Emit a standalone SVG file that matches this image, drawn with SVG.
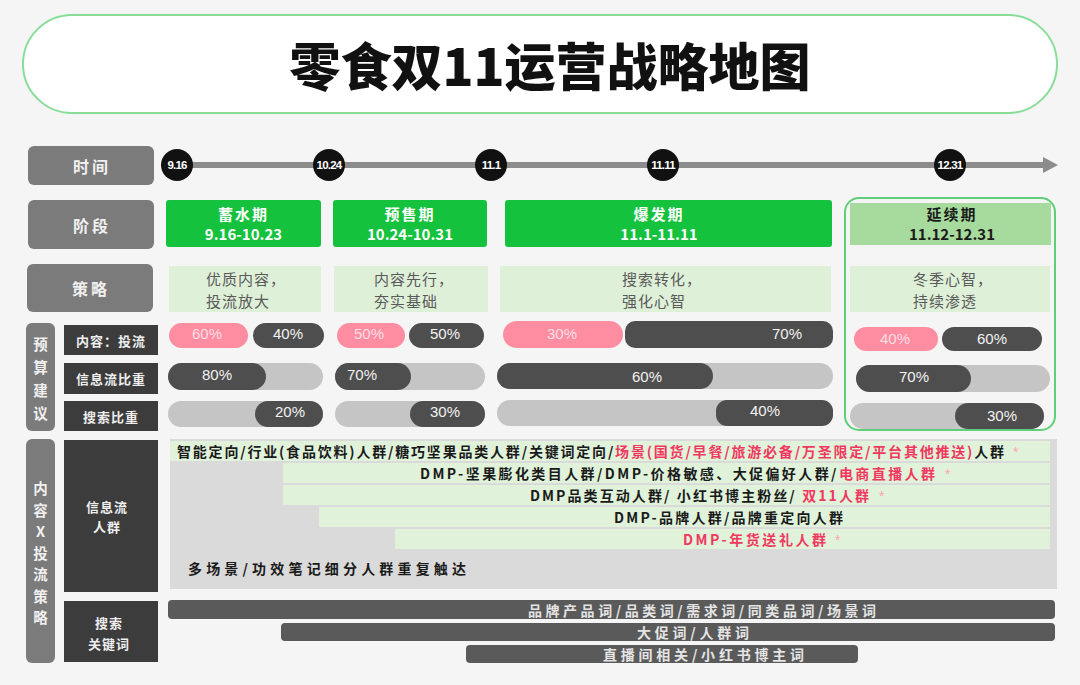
<svg xmlns="http://www.w3.org/2000/svg" width="1080" height="685" viewBox="0 0 1080 685">
<style>
.cjk{font-family:"Noto Sans CJK SC","Noto Sans",sans-serif}
.lat{font-family:"Liberation Sans",Arial,sans-serif}
.mid{text-anchor:middle;dominant-baseline:central}
.lblbox{fill:#7b7b7b}
.subbox{fill:#3c3c3c}
.lblt{font-family:"Noto Sans CJK SC",sans-serif;font-weight:700;font-size:16px;fill:#f0f0f0;text-anchor:middle;dominant-baseline:central;letter-spacing:3px}
.vt{font-family:"Noto Sans CJK SC",sans-serif;font-weight:700;font-size:14.5px;fill:#f0f0f0;text-anchor:middle;dominant-baseline:central}
.subt{font-family:"Noto Sans CJK SC",sans-serif;font-weight:700;font-size:13px;fill:#eeeeee;text-anchor:middle;dominant-baseline:central;letter-spacing:1px}
.stage{fill:#14c23d}
.stt{font-family:"Noto Sans CJK SC",sans-serif;font-weight:700;font-size:15px;fill:#ffffff;text-anchor:middle;dominant-baseline:central}
.stra{fill:#def0d8}
.strt{font-family:"Noto Sans CJK SC",sans-serif;font-size:15px;fill:#5a5a5a;dominant-baseline:central;letter-spacing:1px}
.pink{fill:#ff8da2}
.dark{fill:#4e4e4e}
.lite{fill:#c5c5c5}
.pt{font-family:"Liberation Sans",Arial,sans-serif;font-size:15px;text-anchor:middle;dominant-baseline:central}
.pw{fill:#f2f2f2}
.pp{fill:#ffdde4}
.row{fill:#e0f2da}
.rt{font-family:"Noto Sans CJK SC",sans-serif;font-weight:700;font-size:14px;fill:#1a1a1a;dominant-baseline:central}
.red{fill:#f0385f}
.star{font-family:"Liberation Sans",Arial,sans-serif;font-size:14px;fill:#ffa3b3;dominant-baseline:central}
.kw{fill:#5a5a5a}
.kwt{font-family:"Noto Sans CJK SC",sans-serif;font-weight:700;font-size:14px;fill:#e4e4e4;dominant-baseline:central}
.circ{fill:#111111}
.ct{font-family:"Liberation Sans",Arial,sans-serif;font-weight:700;font-size:11.5px;fill:#ffffff;text-anchor:middle;dominant-baseline:central;letter-spacing:-0.8px}
</style>
<rect x="0" y="0" width="1080" height="685" fill="#f5f5f5"/>

<g id="title">
<rect x="23" y="15" width="1034" height="98" rx="49" fill="#ffffff" stroke="#8adc99" stroke-width="2"/>
<text x="550" y="64" class="cjk mid" font-size="51" font-weight="900" fill="#111">零食双11运营战略地图</text>
</g>

<g id="label-time"><rect class="lblbox" x="28" y="146" width="126" height="39" rx="6"/><text class="lblt" x="92" y="165.5">时间</text></g>
<g id="label-stage"><rect class="lblbox" x="28" y="200" width="126" height="49" rx="6"/><text class="lblt" x="92" y="224.5">阶段</text></g>
<g id="label-strategy"><rect class="lblbox" x="27" y="264" width="126" height="48" rx="6"/><text class="lblt" x="91" y="288">策略</text></g>

<g id="connectors">
<line x1="177" y1="165" x2="1046" y2="165" stroke="#8c8c8c" stroke-width="6"/>
<polygon points="1043,157 1058,165 1043,173" fill="#8c8c8c"/>
</g>

<g id="t-916"><circle class="circ" cx="177" cy="165" r="16"/><text class="ct" x="177" y="165">9.16</text></g>
<g id="t-1024"><circle class="circ" cx="329" cy="165" r="16"/><text class="ct" x="329" y="165">10.24</text></g>
<g id="t-111"><circle class="circ" cx="491" cy="165" r="16"/><text class="ct" x="491" y="165">11.1</text></g>
<g id="t-1111"><circle class="circ" cx="663" cy="165" r="16"/><text class="ct" x="663" y="165">11.11</text></g>
<g id="t-1231"><circle class="circ" cx="950" cy="165" r="16"/><text class="ct" x="950" y="165">12.31</text></g>

<g id="stage-1"><rect class="stage" x="166" y="200" width="155" height="47" rx="3"/><text class="stt" x="243.5" y="213" letter-spacing="2">蓄水期</text><text class="stt" x="243.5" y="233" font-weight="600">9.16-10.23</text></g>
<g id="stage-2"><rect class="stage" x="333" y="200" width="154" height="47" rx="3"/><text class="stt" x="410" y="213" letter-spacing="2">预售期</text><text class="stt" x="410" y="233" font-weight="600">10.24-10.31</text></g>
<g id="stage-3"><rect class="stage" x="505" y="200" width="327" height="47" rx="3"/><text class="stt" x="659" y="213" letter-spacing="2">爆发期</text><text class="stt" x="659" y="233" font-weight="600">11.1-11.11</text></g>
<g id="stage-4"><rect x="845" y="198" width="210" height="232" rx="14" fill="none" stroke="#5fcf77" stroke-width="2"/><rect x="850" y="203" width="201" height="42" fill="#a7da9d"/><text class="stt" x="952" y="213" style="fill:#1a1a1a" letter-spacing="2">延续期</text><text class="stt" x="952" y="233" style="fill:#1a1a1a">11.12-12.31</text></g>

<g id="strategy-1"><rect class="stra" x="169" y="266" width="152" height="46"/><text class="strt" x="206" y="278">优质内容，</text><text class="strt" x="206" y="300">投流放大</text></g>
<g id="strategy-2"><rect class="stra" x="334" y="266" width="154" height="46"/><text class="strt" x="374" y="278">内容先行，</text><text class="strt" x="374" y="300">夯实基础</text></g>
<g id="strategy-3"><rect class="stra" x="500" y="266" width="331" height="46"/><text class="strt" x="622" y="278">搜索转化，</text><text class="strt" x="622" y="300">强化心智</text></g>
<g id="strategy-4"><rect class="stra" x="850" y="266" width="200" height="46"/><text class="strt" x="913" y="278">冬季心智，</text><text class="strt" x="913" y="300">持续渗透</text></g>

<g id="budget-label"><rect class="lblbox" x="26" y="323" width="29" height="108" rx="6"/>
<text class="vt" x="40.5" y="343">预</text><text class="vt" x="40.5" y="366">算</text><text class="vt" x="40.5" y="389">建</text><text class="vt" x="40.5" y="412">议</text></g>
<g id="budget-ratio"><rect class="subbox" x="64" y="325" width="94" height="30"/><text class="subt" x="111" y="340">内容：投流</text></g>
<g id="budget-feed"><rect class="subbox" x="64" y="363" width="94" height="31"/><text class="subt" x="111" y="378.5">信息流比重</text></g>
<g id="budget-search"><rect class="subbox" x="64" y="401" width="94" height="30"/><text class="subt" x="111" y="416">搜索比重</text></g>

<g id="bars-1">
<rect class="pink" x="169" y="323" width="79" height="25" rx="12.5"/><text class="pt pp" x="207" y="333">60%</text>
<rect class="dark" x="253" y="323" width="71" height="25" rx="12.5"/><text class="pt pw" x="288" y="333">40%</text>
<rect class="lite" x="168" y="363" width="155" height="27" rx="13.5"/><rect class="dark" x="168" y="363" width="98" height="27" rx="13.5"/><text class="pt pw" x="217" y="374">80%</text>
<rect class="lite" x="168" y="401" width="155" height="26" rx="13"/><rect class="dark" x="255" y="401" width="68" height="26" rx="13"/><text class="pt pw" x="290" y="411">20%</text>
</g>
<g id="bars-2">
<rect class="pink" x="337" y="323" width="68" height="25" rx="12.5"/><text class="pt pp" x="369" y="333">50%</text>
<rect class="dark" x="409" y="323" width="75" height="25" rx="12.5"/><text class="pt pw" x="445" y="333">50%</text>
<rect class="lite" x="335" y="363" width="150" height="27" rx="13.5"/><rect class="dark" x="335" y="363" width="76" height="27" rx="13.5"/><text class="pt pw" x="362" y="374">70%</text>
<rect class="lite" x="335" y="401" width="150" height="26" rx="13"/><rect class="dark" x="410" y="401" width="75" height="26" rx="13"/><text class="pt pw" x="445" y="411">30%</text>
</g>
<g id="bars-3">
<rect class="pink" x="503" y="321" width="120" height="27" rx="13.5"/><text class="pt pp" x="562" y="333">30%</text>
<rect class="dark" x="625" y="321" width="208" height="27" rx="10"/><text class="pt pw" x="787" y="333">70%</text>
<rect class="lite" x="497" y="363" width="336" height="26" rx="13"/><rect class="dark" x="497" y="363" width="216" height="26" rx="13"/><text class="pt pw" x="647" y="376">60%</text>
<rect class="lite" x="497" y="400" width="336" height="26" rx="13"/><rect class="dark" x="716" y="400" width="117" height="26" rx="11"/><text class="pt pw" x="765" y="410">40%</text>
</g>
<g id="bars-4">
<rect class="pink" x="854" y="327" width="84" height="24" rx="12"/><text class="pt pp" x="895" y="338">40%</text>
<rect class="dark" x="942" y="327" width="100" height="24" rx="12"/><text class="pt pw" x="992" y="338">60%</text>
<rect class="lite" x="856" y="365" width="194" height="27" rx="13.5"/><rect class="dark" x="856" y="365" width="115" height="27" rx="13.5"/><text class="pt pw" x="914" y="376">70%</text>
<rect class="lite" x="850" y="403" width="194" height="26" rx="13"/><rect class="dark" x="955" y="403" width="89" height="26" rx="13"/><text class="pt pw" x="1002" y="415">30%</text>
</g>

<g id="content-label"><rect class="lblbox" x="26" y="439" width="29" height="224" rx="6"/>
<text class="vt" x="40.5" y="487">内</text><text class="vt" x="40.5" y="509">容</text><text class="vt" x="40.5" y="530.5">X</text><text class="vt" x="40.5" y="552">投</text><text class="vt" x="40.5" y="573.5">流</text><text class="vt" x="40.5" y="595">策</text><text class="vt" x="40.5" y="616.5">略</text></g>

<g id="feed-label"><rect class="subbox" x="64" y="440" width="94" height="152"/><text class="subt" x="107" y="506" font-size="14">信息流</text><text class="subt" x="107" y="526" font-size="14">人群</text></g>

<g id="feed-audience">
<rect x="170" y="439" width="887" height="150" fill="#dbdadb"/>
<rect class="row" x="170" y="441" width="880" height="20"/>
<rect class="row" x="283" y="463" width="767" height="20"/>
<rect class="row" x="283" y="485" width="767" height="20"/>
<rect class="row" x="319" y="507" width="731" height="20"/>
<rect class="row" x="395" y="529" width="655" height="20"/>
<text class="rt" x="177" y="451" textLength="827" lengthAdjust="spacing">智能定向/行业(食品饮料)人群/糖巧坚果品类人群/关键词定向/<tspan class="red">场景(国货/早餐/旅游必备/万圣限定/平台其他推送)</tspan>人群</text>
<text class="star" x="1013" y="452">*</text>
<text class="rt" x="420" y="473" textLength="515" lengthAdjust="spacing">DMP-坚果膨化类目人群/DMP-价格敏感、大促偏好人群/<tspan class="red">电商直播人群</tspan></text>
<text class="star" x="945" y="474">*</text>
<text class="rt" x="530" y="495" textLength="339" lengthAdjust="spacing">DMP品类互动人群/ 小红书博主粉丝/ <tspan class="red">双11人群</tspan></text>
<text class="star" x="879" y="496">*</text>
<text class="rt" x="614" y="517" textLength="229" lengthAdjust="spacing">DMP-品牌人群/品牌重定向人群</text>
<text class="rt red" x="683" y="539" textLength="143" lengthAdjust="spacing">DMP-年货送礼人群</text>
<text class="star" x="835" y="540">*</text>
<text class="rt" x="188" y="568" textLength="278" lengthAdjust="spacing">多场景/功效笔记细分人群重复触达</text>
</g>

<g id="search-label"><rect class="subbox" x="64" y="601" width="94" height="61"/><text class="subt" x="109" y="622" font-size="14">搜索</text><text class="subt" x="109" y="643" font-size="14">关键词</text></g>

<g id="search-keywords">
<rect class="kw" x="168" y="600" width="887" height="19" rx="4"/>
<text class="kwt" x="528" y="609.5" textLength="348" lengthAdjust="spacing">品牌产品词/品类词/需求词/同类品词/场景词</text>
<rect class="kw" x="281" y="623" width="774" height="18" rx="4"/>
<text class="kwt" x="637" y="632" textLength="112" lengthAdjust="spacing">大促词/人群词</text>
<rect class="kw" x="466" y="645" width="392" height="18" rx="4"/>
<text class="kwt" x="603" y="654" textLength="201" lengthAdjust="spacing">直播间相关/小红书博主词</text>
</g>
</svg>
